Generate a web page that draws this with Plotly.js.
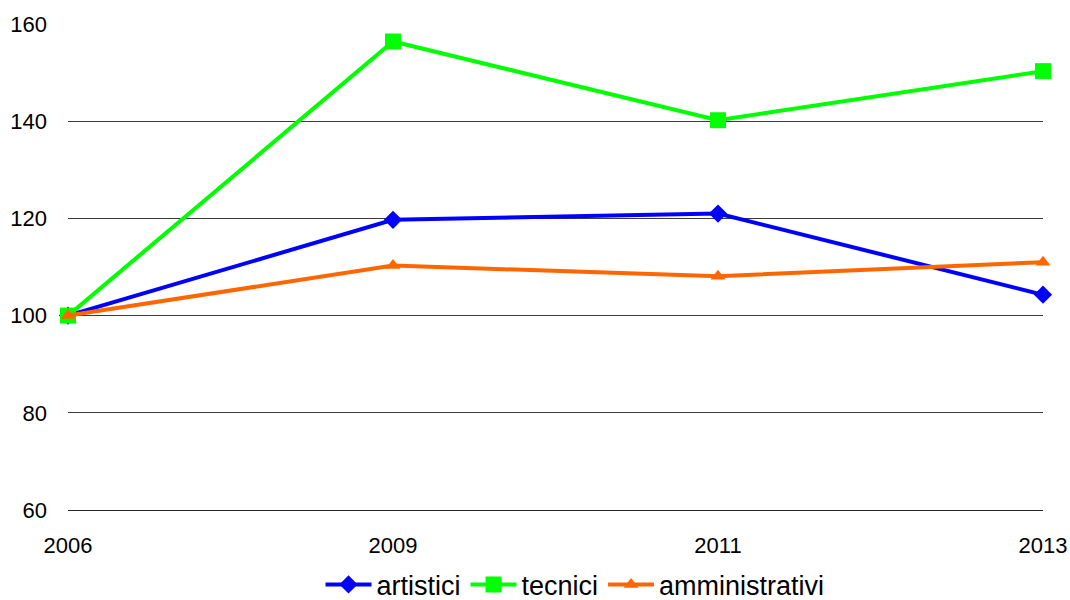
<!DOCTYPE html>
<html>
<head>
<meta charset="utf-8">
<script src="https://cdn.plot.ly/plotly-3.0.1.min.js"></script>
<style>
  html, body { margin: 0; padding: 0; background: #fff; }
  #chart { width: 1070px; height: 600px; }
</style>
</head>
<body>
<div id="chart"></div>
<script>
// Indici (2006 = 100) per categoria di personale
const years = ['2006', '2009', '2011', '2013'];
const artistici = [100, 119.7, 121.0, 104.3];
const tecnici = [100, 156.4, 140.2, 150.3];
const amministrativi = [100, 110.3, 108.1, 111.0];
const yTicks = [60, 80, 100, 120, 140, 160];

const FONT = '"Liberation Sans", Arial, sans-serif';

function series(name, values, color, symbol, size) {
  return {
    type: 'scatter',
    mode: 'lines+markers',
    name: name,
    x: years,
    y: values,
    cliponaxis: false,
    line: { color: color, width: 4 },
    marker: { color: color, symbol: symbol, size: size },
    hoverinfo: 'x+y+name'
  };
}

const data = [
  series('artistici', artistici, '#0000FF', 'diamond', 14),
  series('tecnici', tecnici, '#00FF00', 'square', 16),
  series('amministrativi', amministrativi, '#FF6600', 'triangle-up', 13)
];

const layout = {
  width: 1070,
  height: 600,
  margin: { l: 68, r: 27, t: 24, b: 90, autoexpand: false },
  paper_bgcolor: '#ffffff',
  plot_bgcolor: '#ffffff',
  font: { family: FONT, color: '#000000' },
  showlegend: true,
  legend: {
    orientation: 'h',
    x: 0.52,
    xanchor: 'center',
    y: -0.154,
    yanchor: 'middle',
    font: { family: FONT, size: 27, color: '#000000' },
    itemwidth: 46,
    tracegroupgap: 0
  },
  xaxis: {
    type: 'category',
    range: [0, 3],
    showgrid: false,
    zeroline: false,
    showline: true,
    linecolor: '#222222',
    linewidth: 1,
    ticks: '',
    ticklabelstandoff: 16,
    tickfont: { family: FONT, size: 22, color: '#000000' }
  },
  yaxis: {
    range: [60, 160],
    tickvals: yTicks,
    ticktext: yTicks.map(String),
    showgrid: true,
    gridcolor: '#3a3a3a',
    gridwidth: 1,
    zeroline: false,
    showline: false,
    ticks: '',
    ticklabelstandoff: 20,
    tickfont: { family: FONT, size: 22, color: '#000000' }
  }
};

Plotly.newPlot('chart', data, layout, { displayModeBar: false, responsive: false });
</script>
</body>
</html>
